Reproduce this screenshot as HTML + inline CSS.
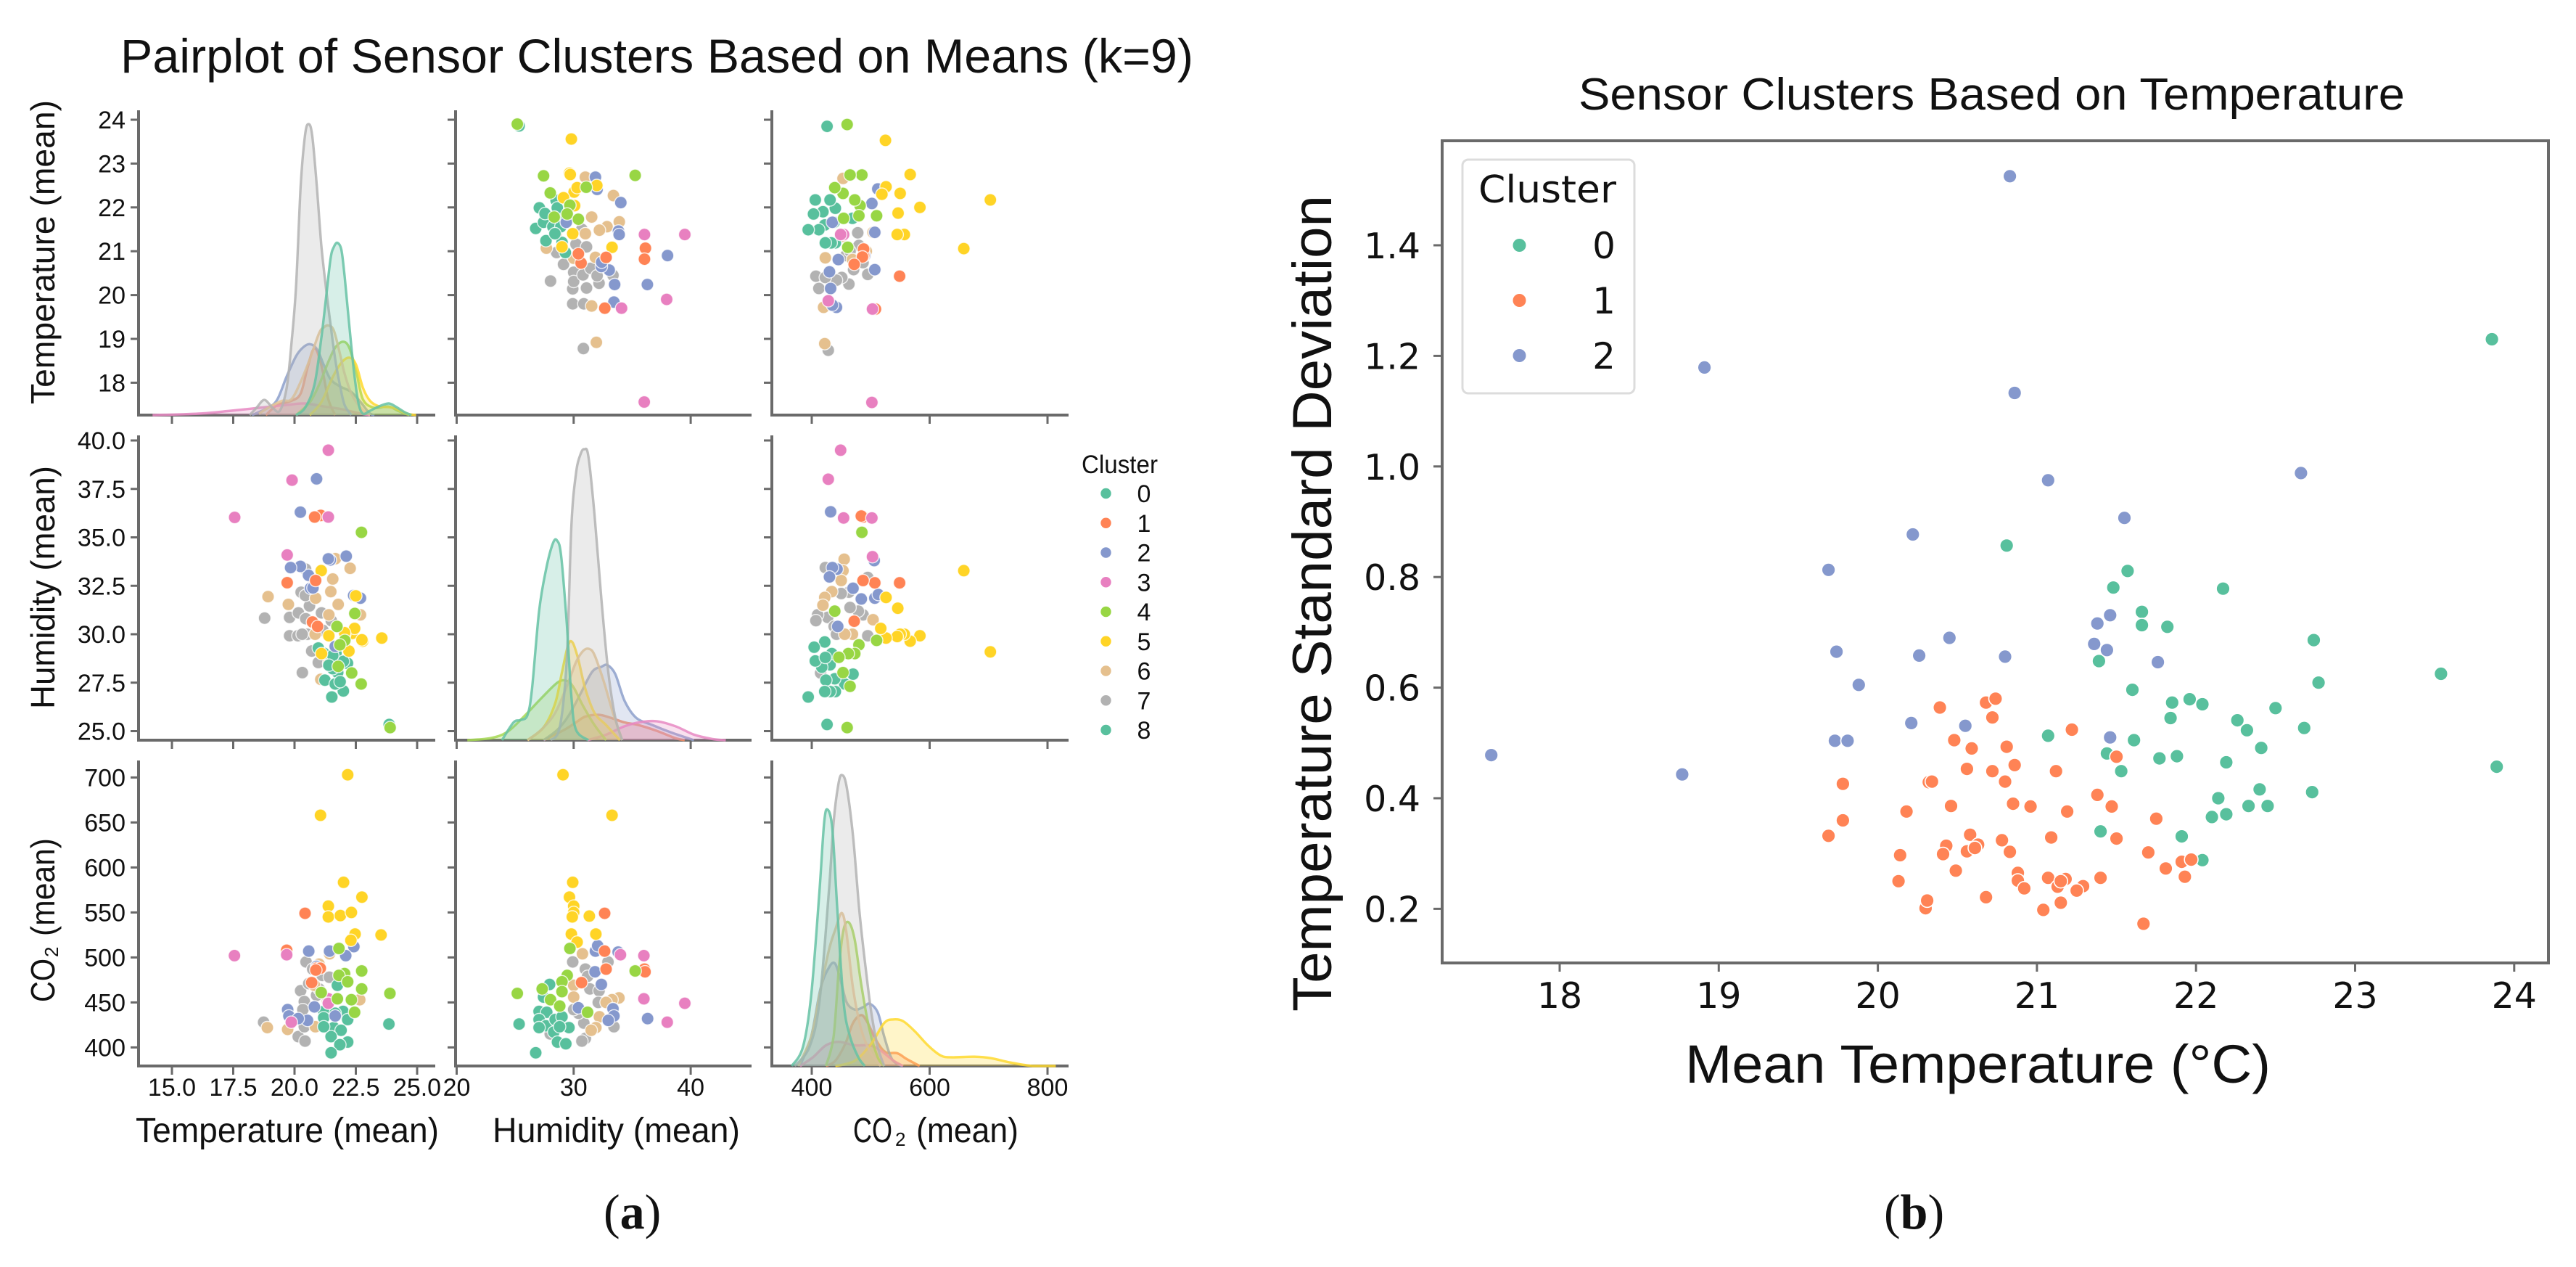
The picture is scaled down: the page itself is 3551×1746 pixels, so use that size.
<!DOCTYPE html>
<html lang="en">
<head>
<meta charset="utf-8">
<title>Sensor cluster charts</title>
<style>
html,body{margin:0;padding:0;background:#fff;width:3551px;height:1746px;overflow:hidden}
svg{display:block}
text{font-family:"Liberation Sans",sans-serif;fill:#111}
</style>
</head>
<body>
<svg id="figure" xmlns="http://www.w3.org/2000/svg" width="3551" height="1746" viewBox="0 0 3551 1746">
  <rect width="3551" height="1746" fill="#fff"/>
  <g id="pairplot">
    <text x="166" y="100" font-size="66" textLength="1479" lengthAdjust="spacingAndGlyphs">Pairplot of Sensor Clusters Based on Means (k=9)</text>
    <text transform="translate(75 557) rotate(-90)" font-size="46" textLength="419" lengthAdjust="spacingAndGlyphs">Temperature (mean)</text>
    <text transform="translate(75 977) rotate(-90)" font-size="46" textLength="335" lengthAdjust="spacingAndGlyphs">Humidity (mean)</text>
    <text transform="translate(75 1381) rotate(-90)" font-size="46" textLength="60" lengthAdjust="spacingAndGlyphs">CO</text>
    <text transform="translate(80 1319) rotate(-90)" font-size="26">2</text>
    <text transform="translate(75 1290) rotate(-90)" font-size="46" textLength="135" lengthAdjust="spacingAndGlyphs">(mean)</text>
    <text x="187" y="1574" font-size="48" textLength="418" lengthAdjust="spacingAndGlyphs">Temperature (mean)</text>
    <text x="679" y="1574" font-size="48" textLength="341" lengthAdjust="spacingAndGlyphs">Humidity (mean)</text>
    <text x="1176" y="1574" font-size="48" textLength="54" lengthAdjust="spacingAndGlyphs">CO</text>
    <text x="1234" y="1579" font-size="26">2</text>
    <text x="1263" y="1574" font-size="48" textLength="141" lengthAdjust="spacingAndGlyphs">(mean)</text>
    <text x="1491" y="652" font-size="35" textLength="105" lengthAdjust="spacingAndGlyphs">Cluster</text>
  </g>
  <g id="scatterpanel">
    <text x="2176" y="151" font-size="62" textLength="1139" lengthAdjust="spacingAndGlyphs">Sensor Clusters Based on Temperature</text>
    <text x="2323" y="1492" font-size="74" textLength="807" lengthAdjust="spacingAndGlyphs">Mean Temperature (°C)</text>
    <text transform="translate(1835 1394) rotate(-90)" font-size="76" textLength="1125" lengthAdjust="spacingAndGlyphs">Temperature Standard Deviation</text>
  </g>
  <text x="832" y="1693" font-size="68" style="font-family:'Liberation Serif',serif">(<tspan font-weight="bold">a</tspan>)</text>
  <text x="2597" y="1693" font-size="68" style="font-family:'Liberation Serif',serif">(<tspan font-weight="bold">b</tspan>)</text>
</svg>
<script>
/* ---------- shared palette and legend ---------- */
const clusterLabels = ['0','1','2','3','4','5','6','7','8'];
const markerColors = ['#58c09d','#ff8355','#8598cd','#e880c0','#98d644','#ffd426','#e5c08e','#b2b2b2','#58c09d'];
const curveColors = ['#66c2a5','#fc8d62','#8da0cb','#e78ac3','#a6d854','#ffd92f','#e5c494','#b3b3b3','#66c2a5'];

/* ---------- pairplot tick values ---------- */
const tempTicksX = [15,17.5,20,22.5,25];
const tempTickLabelsX = ['15.0','17.5','20.0','22.5','25.0'];
const humTicksX = [20,30,40];
const humTickLabelsX = ['20','30','40'];
const co2TicksX = [400,600,800];
const co2TickLabelsX = ['400','600','800'];
const tempTicksY = [18,19,20,21,22,23,24];
const tempTickLabelsY = ['18','19','20','21','22','23','24'];
const humTicksY = [25,27.5,30,32.5,35,37.5,40];
const humTickLabelsY = ['25.0','27.5','30.0','32.5','35.0','37.5','40.0'];
const co2TicksY = [400,450,500,550,600,650,700];
const co2TickLabelsY = ['400','450','500','550','600','650','700'];

/* ---------- temperature vs humidity, [temperature, humidity] per cluster ---------- */
const tempHum1 = [[21.07,36.13],[20.82,36.05],[20.86,32.77],[19.7,32.66],[20.73,30.63],[20.94,30.4]];
const tempHum2 = [[22.69,31.86],[22.41,32],[22.11,34.03],[21.66,29.37],[21.46,33.83],[20.9,38.02],[20.57,33.04],[20.65,32.37],[20.24,33.5],[20.24,36.3],[19.84,33.44],[21.38,33.89],[20.75,32.39]];
const tempHum3 = [[21.38,39.5],[19.9,37.95],[17.56,36.03],[21.38,36.05],[19.7,34.09]];
const tempHum4 = [[22.72,27.43],[22.73,35.26],[22.46,31.07],[22.33,28],[22.05,29.68],[21.85,29.45],[21.78,28.34],[23.9,25.18],[21.73,30.4]];
const tempHum5 = [[23.56,29.8],[22.78,29.64],[22.5,31.98],[22.35,30.04],[22.45,30.3],[22.22,29.13],[22.05,30],[21.4,29.92],[21.09,33.28],[21.1,29],[22.75,29.71],[22.04,30.08]];
const tempHum6 = [[22.69,31],[22.27,33.4],[21.78,31.54],[21.67,33.9],[21.56,32.85],[21.48,32.2],[21.39,28.5],[21.07,27.67],[20.84,30],[20.86,31.86],[19.75,31.54],[18.92,31.94],[21.4,31]];
const tempHum7 = [[18.78,30.83],[20.32,28.02],[19.8,29.92],[19.8,30.87],[20.14,29.92],[20.16,31.1],[20.52,30],[20.31,30],[20.46,30.8],[20.61,31.46],[20.27,32.17],[20.44,32],[20.45,33.36],[20.7,29.13],[21.16,30.2],[21.1,31.1],[21.5,30.7],[20.97,28.54]];
const tempHum8 = [[23.86,25.34],[21.99,27.07],[22.16,28.5],[21.52,26.76],[21.76,28.02],[21.24,27.63],[21.2,29.01],[20.97,29.29],[21.89,28.62],[21.66,27.43],[21.56,28.22],[21.69,29.01],[21.86,27.55],[21.99,28.6],[21.56,28.9],[21.4,28.4]];

/* ---------- temperature vs CO2, [temperature, co2] per cluster ---------- */
const tempCo21 = [[20.43,549],[19.68,508],[20.9,488],[21.05,488],[20.87,486],[20.7,472]];
const tempCo22 = [[20.58,507],[22.42,512],[22.09,502],[20.81,445],[21.66,435],[19.72,442],[19.77,435],[20.53,430],[20.15,432],[21.43,507],[20.9,490]];
const tempCo23 = [[17.55,502],[19.68,503],[21.38,454],[21.38,449],[19.87,428]];
const tempCo24 = [[21.81,510],[22.74,485],[22.04,482],[21.81,480],[22.17,473],[22.74,465],[21.09,461],[23.89,460],[21.75,454],[22.32,453],[22.45,439]];
const tempCo25 = [[22.17,703],[21.06,658],[22,583.5],[22.75,567],[21.38,557],[21.38,545],[21.87,546.5],[22.32,550],[22.47,526],[23.53,525],[22.3,519]];
const tempCo26 = [[21.43,504],[20.81,469],[21.34,452],[22.66,453],[18.89,422],[19.72,420],[20.85,423],[21,492.5]];
const tempCo27 = [[20.47,495],[20.74,487],[21.13,480],[21.42,478],[20.25,463],[20.58,471],[20.4,451],[20.34,442],[18.74,428],[20.15,412],[20.43,407],[20.4,423],[20.9,458],[21,465]];
const tempCo28 = [[21.75,469],[21.19,440],[21.98,440],[21.19,433],[21.66,438],[22.17,431],[21.6,422],[21.9,419],[21.49,412],[22.17,406],[21.85,403],[21.49,394],[23.85,426],[21.19,423]];

/* ---------- humidity vs CO2, [humidity, co2] per cluster ---------- */
const humCo21 = [[32.65,549],[32.65,507],[32.77,487],[36.05,487],[36.1,484],[30.67,472]];
const humCo22 = [[36.32,432],[31.86,507],[32.05,513],[33.8,506],[31.82,484],[32.37,470],[33.36,443],[33.44,435],[32.96,430],[30.4,444]];
const humCo23 = [[36,502],[34,503],[36,454],[39.5,449],[38,428]];
const humCo24 = [[25.18,460],[29.68,510],[35.26,485],[29.45,480],[27.31,465],[29,473],[29,462],[28.02,453],[31.19,439],[28.81,446]];
const humCo25 = [[29.09,703],[33.28,658],[29.92,583.5],[29.64,567],[30,557],[30,550],[29.88,545],[31.34,546],[29.8,526],[31.9,526],[30.3,517]];
const humCo26 = [[30.75,504],[30,469],[30,456],[33.87,455],[33.28,453],[32.2,434],[31.9,422],[32.77,450],[31.5,419]];
const humCo27 = [[29.92,495],[32.93,495],[31,487],[31.19,479],[31.38,465],[32.17,463],[32.1,450],[30.87,427],[33.44,423],[31,410],[30.7,407],[30.4,438],[28,415],[30,442]];
const humCo28 = [[25.34,426],[26.76,394],[27.94,470],[27.43,456],[27.04,440],[27.7,439],[27.04,431],[27.63,424],[27.04,422],[28.42,431],[29,434],[28.3,417],[29.6,422],[28.62,406],[29.33,404],[28.8,423]];

/* ---------- density curves, [value, relative density] ---------- */
const kdeTemp1 = [[18.83,0],[19.3,.035],[19.87,.049],[20.25,.074],[20.53,.163],[20.81,.229],[21.09,.173],[21.38,.054],[21.66,0]];
const kdeTemp2 = [[18.26,0],[18.92,.025],[19.3,.054],[19.68,.133],[20.06,.202],[20.34,.232],[20.62,.244],[20.91,.227],[21.19,.173],[21.47,.123],[21.85,.099],[22.32,.079],[22.7,.044],[23.08,.005],[23.26,0]];
const kdeTemp3 = [[14.21,0],[16.09,.005],[17.42,.015],[18.55,.025],[19.68,.035],[20.43,.04],[21.19,.03],[21.94,.02],[22.7,.005],[23.08,0]];
const kdeTemp4 = [[20.06,0],[20.62,.044],[21,.104],[21.38,.183],[21.66,.232],[21.98,.252],[22.23,.232],[22.51,.153],[22.79,.054],[23.26,.025],[23.83,.03],[24.21,.015],[24.68,0]];
const kdeTemp5 = [[20.62,0],[21.09,.044],[21.57,.133],[21.94,.183],[22.26,.197],[22.51,.173],[22.79,.094],[23.08,.049],[23.45,.03],[24.02,.025],[24.58,.005],[24.96,0]];
const kdeTemp6 = [[18.55,.005],[18.92,.025],[19.49,.049],[19.87,.054],[20.25,.114],[20.62,.192],[21,.281],[21.19,.301],[21.38,.308],[21.6,.291],[21.85,.212],[22.04,.143],[22.32,.074],[22.7,.025],[23.08,0]];
const kdeTemp7 = [[18.17,0],[18.45,.025],[18.77,.052],[19.11,.025],[19.4,.015],[19.68,.094],[19.87,.242],[20.06,.439],[20.25,.785],[20.43,.962],[20.57,1],[20.72,.962],[20.91,.785],[21.09,.587],[21.28,.439],[21.47,.311],[21.66,.192],[21.85,.104],[22.04,.035],[22.32,0]];
const kdeTemp8 = [[20.06,0],[20.43,.025],[20.81,.104],[21.09,.262],[21.28,.4],[21.47,.538],[21.6,.577],[21.75,.592],[21.91,.568],[22.04,.479],[22.23,.311],[22.42,.153],[22.6,.044],[22.79,.005],[23.08,.015],[23.45,.03],[23.83,.04],[24.11,.03],[24.49,.01],[24.77,0]];

const kdeHum1 = [[27.43,0],[29.21,.036],[30.2,.061],[30.99,.081],[32.17,.087],[33.16,.077],[34.35,.061],[35.53,.052],[37.11,.032],[38.7,.007],[39.49,0]];
const kdeHum2 = [[27.43,0],[28.62,.036],[29.6,.086],[30.59,.16],[31.58,.235],[32.37,.252],[32.89,.258],[33.56,.227],[34.35,.135],[35.34,.077],[36.72,.052],[38.3,.027],[40.28,0]];
const kdeHum3 = [[31.19,0],[32.77,.019],[34.35,.048],[35.73,.062],[37.11,.065],[38.7,.048],[40.28,.019],[41.86,.004],[43,0]];
const kdeHum4 = [[20.91,0],[22.89,.007],[24.27,.027],[25.65,.077],[27.23,.144],[28.62,.198],[29.41,.204],[30,.181],[30.79,.119],[31.78,.052],[32.77,0]];
const kdeHum5 = [[26.05,0],[27.43,.044],[28.42,.127],[29.01,.235],[29.53,.327],[29.92,.335],[30.4,.277],[30.99,.177],[31.78,.094],[32.77,.052],[33.95,0]];
const kdeHum6 = [[26.05,0],[27.23,.036],[28.42,.094],[29.41,.185],[30.2,.268],[30.79,.306],[31.3,.314],[31.78,.293],[32.57,.202],[33.36,.094],[34.15,0]];
const kdeHum7 = [[28.02,0],[28.81,.044],[29.41,.277],[29.8,.734],[30.2,.917],[30.59,.983],[30.91,1],[31.26,.975],[31.78,.776],[32.37,.485],[32.96,.235],[33.56,.077],[34.15,0]];
const kdeHum8 = [[23.87,0],[24.86,.061],[25.45,.069],[26.05,.086],[26.44,.177],[27.04,.443],[27.63,.585],[28.22,.676],[28.58,.686],[28.93,.634],[29.41,.402],[29.8,.152],[30.2,.036],[31.26,0]];

const kdeCo21 = [[424,0],[440,.018],[457,.077],[470,.148],[484,.175],[495,.148],[509,.089],[525,.048],[545,.044],[561,.024],[583,0]];
const kdeCo22 = [[380,0],[399,.101],[415,.267],[429,.338],[439,.353],[448,.303],[459,.22],[473,.194],[487,.202],[498,.214],[512,.184],[523,.101],[536,.024],[553,0]];
const kdeCo23 = [[380,0],[402,.03],[424,.071],[446,.083],[473,.071],[498,.071],[517,.053],[539,.018],[555,0]];
const kdeCo24 = [[424,0],[437,.101],[446,.338],[454,.469],[463,.493],[473,.433],[484,.279],[498,.125],[512,.03],[523,0]];
const kdeCo25 = [[440,0],[473,.018],[501,.077],[523,.148],[539,.16],[555,.154],[575,.119],[597,.071],[619,.036],[638,.03],[676,.032],[704,.027],[737,.012],[775,0],[814,0]];
const kdeCo26 = [[377,0],[399,.101],[413,.243],[429,.398],[440,.469],[451,.526],[459,.457],[470,.267],[484,.125],[501,.042],[517,0]];
const kdeCo27 = [[371,0],[396,.065],[413,.22],[429,.6],[437,.837],[445,.967],[451,1],[459,.962],[470,.79],[481,.529],[492,.327],[501,.184],[512,.065],[523,0]];
const kdeCo28 = [[366,0],[385,.065],[399,.243],[413,.6],[421,.837],[427,.881],[435,.814],[443,.552],[454,.22],[465,.101],[479,.03],[490,0]];

/* ---------- right chart: [mean temperature, temperature std] per cluster ---------- */
const meanTempTicks = [18,19,20,21,22,23,24];
const meanTempTickLabels = ['18','19','20','21','22','23','24'];
const stdTicks = [.2,.4,.6,.8,1,1.2,1.4];
const stdTickLabels = ['0.2','0.4','0.6','0.8','1.0','1.2','1.4'];
const stdCluster0 = [[23.86,1.23],[20.81,.857],[21.57,.811],[21.48,.781],[22.17,.779],[21.66,.737],[21.66,.713],[21.82,.71],[22.74,.686],[21.39,.648],[22.77,.609],[23.54,.625],[21.6,.596],[21.85,.573],[21.96,.579],[22.04,.57],[21.84,.545],[22.5,.563],[22.26,.541],[22.32,.523],[22.68,.527],[21.07,.513],[21.61,.505],[22.41,.491],[21.44,.481],[21.77,.472],[21.88,.476],[21.53,.449],[22.19,.465],[23.89,.457],[22.4,.416],[22.73,.411],[22.14,.4],[22.33,.386],[22.45,.386],[22.1,.366],[22.19,.371],[21.4,.34],[21.91,.331],[22.04,.288]];
const stdCluster1 = [[19.78,.426],[20.32,.429],[20.18,.376],[19.78,.36],[19.69,.332],[20.14,.297],[20.13,.25],[20.3,.201],[20.31,.215],[20.39,.564],[20.68,.573],[20.74,.58],[20.72,.546],[20.48,.505],[20.59,.49],[20.81,.493],[20.86,.46],[20.56,.453],[20.72,.449],[20.8,.43],[20.34,.43],[21.12,.449],[21.22,.524],[21.5,.475],[21.38,.406],[21.47,.385],[20.46,.386],[20.85,.39],[20.96,.385],[21.19,.376],[21.75,.363],[20.58,.334],[20.43,.314],[20.41,.299],[20.63,.316],[20.56,.304],[20.61,.31],[20.78,.324],[20.83,.303],[21.09,.329],[21.5,.327],[21.7,.302],[20.49,.269],[21.81,.273],[21.91,.285],[21.97,.289],[21.93,.258],[20.88,.265],[20.88,.251],[20.92,.237],[21.07,.256],[21.18,.254],[21.13,.24],[21.15,.25],[21.29,.241],[21.25,.233],[21.4,.256],[21.15,.211],[21.04,.198],[20.68,.221],[21.67,.173]];
const stdCluster2 = [[20.83,1.525],[20.86,1.133],[21.07,.975],[22.66,.988],[21.55,.907],[21.46,.731],[21.38,.716],[21.36,.679],[21.44,.668],[21.76,.646],[20.45,.69],[20.8,.656],[20.26,.658],[20.55,.531],[21.46,.51],[17.57,.478],[18.77,.443],[19.74,.665],[19.88,.605],[19.73,.504],[19.81,.504],[20.21,.536],[18.91,1.179],[19.69,.813],[20.22,.877]];
const stdSeries = [stdCluster0, stdCluster1, stdCluster2];

/* ---------- lookups by cluster id (1..8) ---------- */
const tempHumByCluster = {7:tempHum7,6:tempHum6,8:tempHum8,2:tempHum2,5:tempHum5,1:tempHum1,3:tempHum3,4:tempHum4};
const tempCo2ByCluster = {7:tempCo27,6:tempCo26,8:tempCo28,2:tempCo22,5:tempCo25,1:tempCo21,3:tempCo23,4:tempCo24};
const humCo2ByCluster = {7:humCo27,6:humCo26,8:humCo28,2:humCo22,5:humCo25,1:humCo21,3:humCo23,4:humCo24};
const kdeTempByCluster = {1:kdeTemp1,2:kdeTemp2,3:kdeTemp3,4:kdeTemp4,5:kdeTemp5,6:kdeTemp6,7:kdeTemp7,8:kdeTemp8};
const kdeHumByCluster = {1:kdeHum1,2:kdeHum2,3:kdeHum3,4:kdeHum4,5:kdeHum5,6:kdeHum6,7:kdeHum7,8:kdeHum8};
const kdeCo2ByCluster = {1:kdeCo21,2:kdeCo22,3:kdeCo23,4:kdeCo24,5:kdeCo25,6:kdeCo26,7:kdeCo27,8:kdeCo28};
const scatterOrder = [7,6,8,2,5,1,3,4];
const kdeOrder = [1,2,3,4,5,6,7,8];

/* ---------- axis functions ---------- */
function xTemp(v){ return 237 + (v - 15) * 33.8; }
function xHum(v){ return 629.5 + (v - 20) * 16.13; }
function xCo2(v){ return 1119 + (v - 400) * 0.8125; }
function yTemp(v){ return 165 + (24 - v) * 60.4; }
function yHum(v){ return 607 + (40 - v) * 26.7; }
function yCo2(v){ return 1071.4 + (700 - v) * 1.24; }
function xMean(v){ return 2150 + (v - 18) * 219.3; }
function yStd(v){ return 338 + (1.4 - v) * 762; }
const densityScale = 401;

const NS = 'http://www.w3.org/2000/svg';
const pairRoot = document.getElementById('pairplot');
const rightRoot = document.getElementById('scatterpanel');

function mk(tag, attrs, parent){
  const el = document.createElementNS(NS, tag);
  for (const k in attrs) el.setAttribute(k, attrs[k]);
  parent.appendChild(el);
  return el;
}

function drawLine(parent, x1, y1, x2, y2, w, name){
  const el = mk('line', {x1:x1, y1:y1, x2:x2, y2:y2, stroke:'#6a6a6a', 'stroke-width':w}, parent);
  
  
  return el;
}

function drawLabel(parent, x, y, str, size, anchor, name, family){
  const el = mk('text', {x:x, y:y, 'font-size':size, 'text-anchor':anchor}, parent);
  if (family) el.style.fontFamily = family;
  el.textContent = str;
  
  
  return el;
}

function smoothPath(pts){
  let d = 'M' + pts[0][0].toFixed(1) + ' ' + pts[0][1].toFixed(1);
  const maxY = Math.max.apply(null, pts.map(p => p[1]));
  for (let i = 0; i < pts.length - 1; i++){
    const p0 = pts[i ? i - 1 : i], p1 = pts[i], p2 = pts[i + 1], p3 = pts[i + 2 < pts.length ? i + 2 : i + 1];
    const c1x = p1[0] + (p2[0] - p0[0]) / 6, c1y = Math.min(maxY, p1[1] + (p2[1] - p0[1]) / 6);
    const c2x = p2[0] - (p3[0] - p1[0]) / 6, c2y = Math.min(maxY, p2[1] - (p3[1] - p1[1]) / 6);
    d += 'C' + c1x.toFixed(1) + ' ' + c1y.toFixed(1) + ' ' + c2x.toFixed(1) + ' ' + c2y.toFixed(1) + ' ' + p2[0].toFixed(1) + ' ' + p2[1].toFixed(1);
  }
  return d;
}

/* ---------- pairplot frames ---------- */
const colLeft = [191, 628, 1064];
const colRight = [600, 1036, 1473];
const rowTop = [152, 600, 1048];
const rowBottom = [572, 1020, 1469];
const xAxisFns = [xTemp, xHum, xCo2];
const yAxisFns = [yTemp, yHum, yCo2];
const xTickSets = [tempTicksX, humTicksX, co2TicksX];
const xLabelSets = [tempTickLabelsX, humTickLabelsX, co2TickLabelsX];
const yTickSets = [tempTicksY, humTicksY, co2TicksY];
const yLabelSets = [tempTickLabelsY, humTickLabelsY, co2TickLabelsY];
const axisNames = ['temperature', 'humidity', 'co2'];

for (let r = 0; r < 3; r++){
  for (let c = 0; c < 3; c++){
    const g = mk('g', {}, pairRoot);
    
    
    drawLine(g, colLeft[c], rowTop[r], colLeft[c], rowBottom[r] + 2, 4, 'y-axis-line');
    drawLine(g, colLeft[c] - 2, rowBottom[r], colRight[c], rowBottom[r], 4, 'x-axis-line');
    xTickSets[c].forEach((t, i) => {
      const x = xAxisFns[c](t);
      drawLine(g, x, rowBottom[r], x, rowBottom[r] + 12, 3, 'x-tick');
      if (r === 2) drawLabel(g, x, 1510, xLabelSets[c][i], 34, 'middle', 'x-tick-label');
    });
    yTickSets[r].forEach((t, i) => {
      const y = yAxisFns[r](t);
      drawLine(g, colLeft[c] - 11, y, colLeft[c], y, 3, 'y-tick');
      if (c === 0) drawLabel(g, 173, y + 12, yLabelSets[r][i], 34, 'end', 'y-tick-label');
    });
  }
}

/* ---------- density curves ---------- */
function drawKde(col, row, curves, xFn){
  const base = rowBottom[row];
  kdeOrder.forEach(cl => {
    const pts = curves[cl].map(p => [xFn(p[0]), base - p[1] * densityScale]);
    const line = smoothPath(pts);
    const area = mk('path', {d: line + 'L' + pts[pts.length - 1][0].toFixed(1) + ' ' + base + 'L' + pts[0][0].toFixed(1) + ' ' + base + 'Z', fill: curveColors[cl], 'fill-opacity': .26, stroke: 'none'}, pairRoot);
    
    
    const stroke = mk('path', {d: line, fill: 'none', stroke: curveColors[cl], 'stroke-width': 3.4, 'stroke-opacity': .85}, pairRoot);
    
    
  });
}
drawKde(0, 0, kdeTempByCluster, xTemp);
drawKde(1, 1, kdeHumByCluster, xHum);
drawKde(2, 2, kdeCo2ByCluster, xCo2);

/* ---------- pairplot scatter marks ---------- */
function drawScatter(byCluster, xFn, yFn, swap, panelName){
  scatterOrder.forEach(cl => {
    byCluster[cl].forEach(p => {
      const a = swap ? p[1] : p[0], b = swap ? p[0] : p[1];
      const dot = mk('circle', {cx: xFn(a).toFixed(1), cy: yFn(b).toFixed(1), r: 8.6, fill: markerColors[cl], stroke: '#fff', 'stroke-width': 1.4, 'stroke-opacity': .8}, pairRoot);
      
      
    });
  });
}
drawScatter(tempHumByCluster, xHum, yTemp, true, 'temperature-humidity');
drawScatter(tempCo2ByCluster, xCo2, yTemp, true, 'temperature-co2');
drawScatter(tempHumByCluster, xTemp, yHum, false, 'humidity-temperature');
drawScatter(humCo2ByCluster, xCo2, yHum, true, 'humidity-co2');
drawScatter(tempCo2ByCluster, xTemp, yCo2, false, 'co2-temperature');
drawScatter(humCo2ByCluster, xHum, yCo2, false, 'co2-humidity');

/* ---------- pairplot legend ---------- */
clusterLabels.forEach((lab, i) => {
  const y = 680 + i * 40.75;
  const entry = mk('g', {}, pairRoot);
  
  
  const dot = mk('circle', {cx: 1524.5, cy: y, r: 7.2, fill: markerColors[i]}, entry);
  
  
  drawLabel(entry, 1577, y + 12, lab, 34, 'middle', 'pairplot-legend-label');
});

/* ---------- right chart ---------- */
const frame = mk('rect', {x: 1988, y: 194, width: 1525, height: 1133, fill: 'none', stroke: '#6a6a6a', 'stroke-width': 4}, rightRoot);


const dejavu = '"DejaVu Sans",sans-serif';
meanTempTicks.forEach((t, i) => {
  const x = xMean(t);
  drawLine(rightRoot, x, 1327, x, 1339, 3, 'scatter-x-tick');
  drawLabel(rightRoot, x, 1389, meanTempTickLabels[i], 49, 'middle', 'scatter-x-tick-label', dejavu);
});
stdTicks.forEach((t, i) => {
  const y = yStd(t);
  drawLine(rightRoot, 1976, y, 1988, y, 3, 'scatter-y-tick');
  drawLabel(rightRoot, 1958, y + 18, stdTickLabels[i], 49, 'end', 'scatter-y-tick-label', dejavu);
});
stdSeries.forEach((series, cl) => {
  series.forEach(p => {
    const dot = mk('circle', {cx: xMean(p[0]).toFixed(1), cy: yStd(p[1]).toFixed(1), r: 9.4, fill: markerColors[cl], stroke: '#fff', 'stroke-width': 1.6}, rightRoot);
    
    
  });
});
const legendBox = mk('rect', {x: 2016, y: 220, width: 237, height: 322, rx: 8, fill: '#fff', stroke: '#dcdcdc', 'stroke-width': 3}, rightRoot);


const legendTitle = drawLabel(rightRoot, 2038, 279, 'Cluster', 52, 'start', 'scatter-legend-title', dejavu);
legendTitle.setAttribute('textLength', '190');
legendTitle.setAttribute('lengthAdjust', 'spacingAndGlyphs');
clusterLabels.slice(0, 3).forEach((lab, i) => {
  const y = 338 + i * 76;
  const dot = mk('circle', {cx: 2094.5, cy: y, r: 9, fill: markerColors[i]}, rightRoot);
  
  
  drawLabel(rightRoot, 2211, y + 18, lab, 50, 'middle', 'scatter-legend-label', dejavu);
});
</script>
</body>
</html>
